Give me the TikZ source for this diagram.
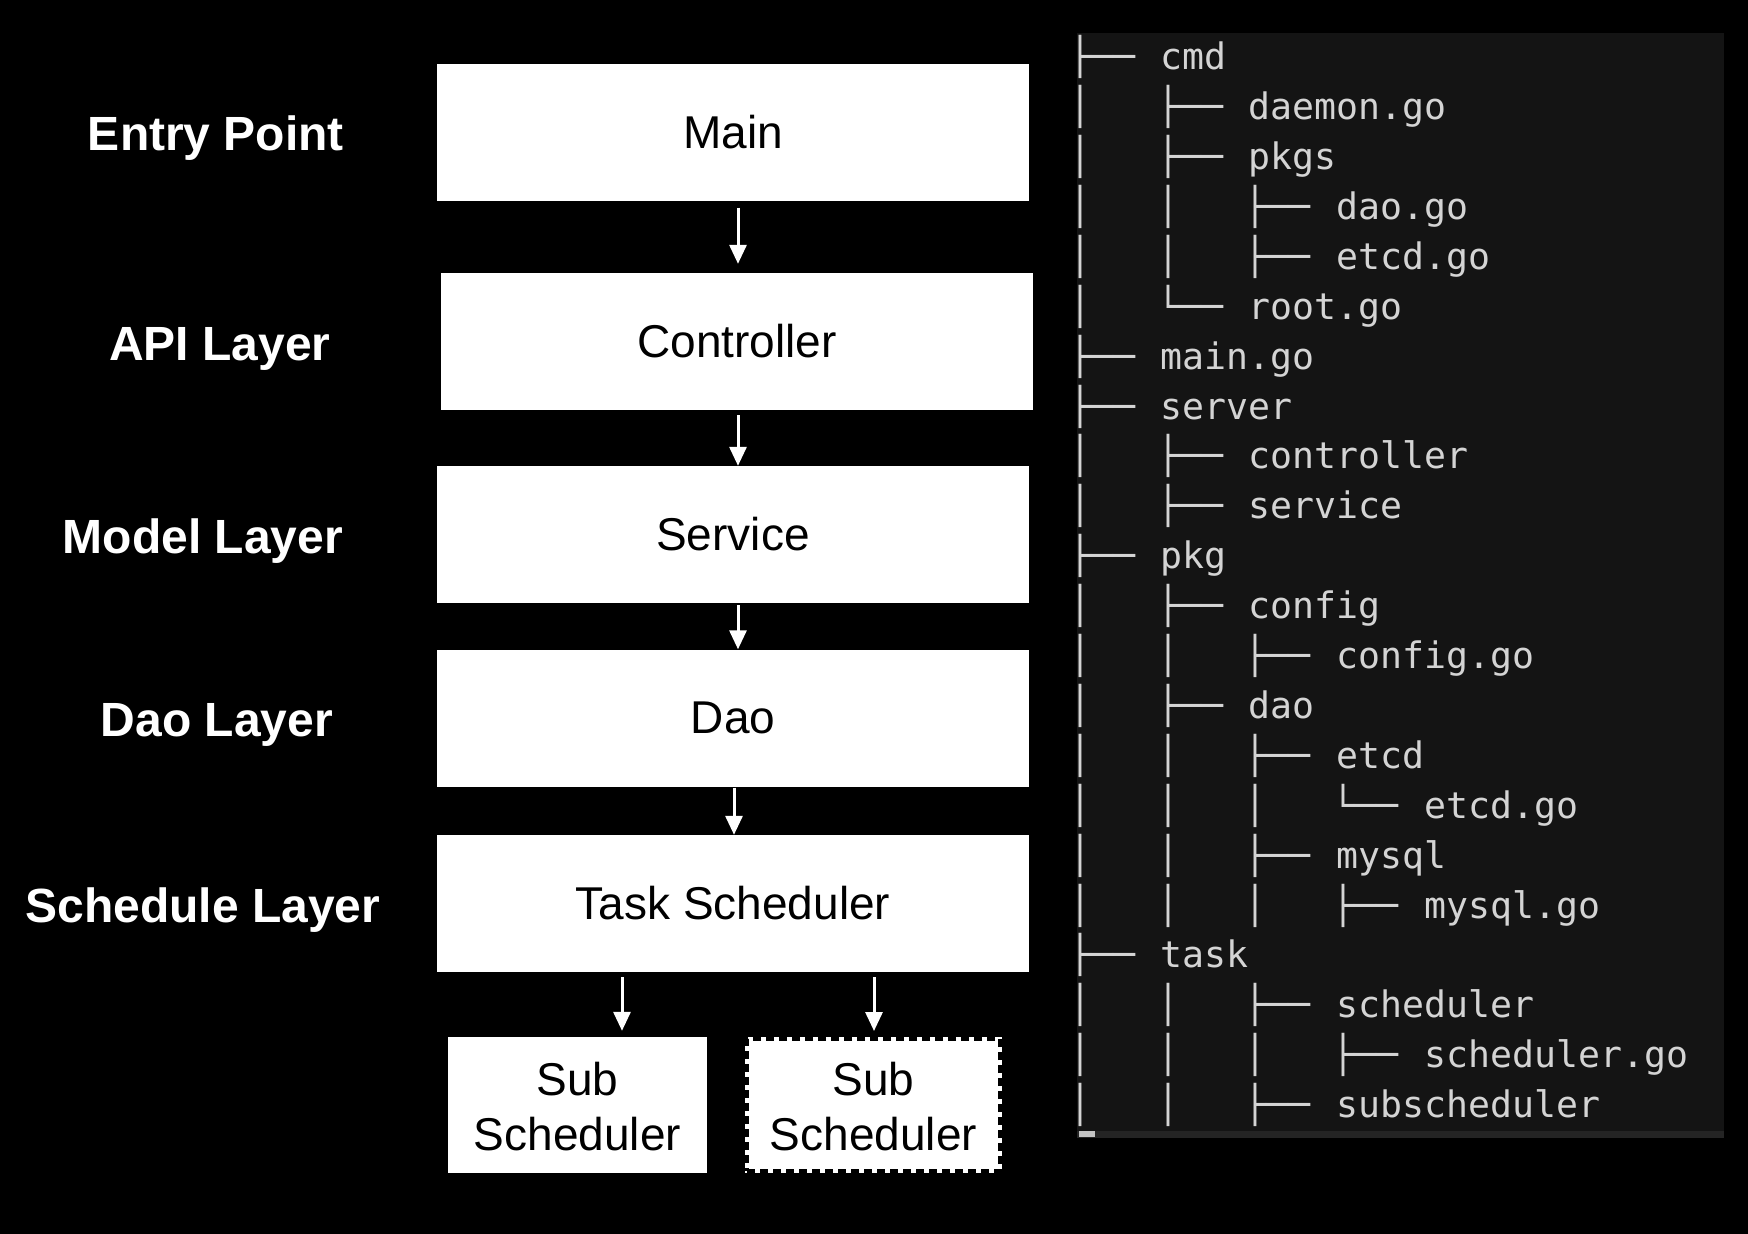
\documentclass[tikz,border=0pt]{standalone}
\usepackage{fontspec}
\setmainfont{Liberation Sans}
\newfontfamily\treefont{DejaVu Sans Mono}
\usetikzlibrary{arrows.meta}
\definecolor{panelbg}{RGB}{20,20,20}
\definecolor{treegray}{RGB}{212,212,212}
\definecolor{scrollbg}{RGB}{36,36,36}
\definecolor{thumbgray}{RGB}{195,195,195}
\newcommand{\gapsp}{\hspace{25.5pt}}
\begin{document}
\begin{tikzpicture}[x=1pt,y=-1pt,
  layerbox/.style={fill=white, inner sep=0pt, text=black,
    font=\fontsize{46}{55}\selectfont, minimum width=592pt, minimum height=137pt},
  subbox/.style={fill=white, inner sep=0pt, minimum width=257pt, minimum height=136pt},
  subtext/.style={inner sep=0pt, text=black, align=center,
    font=\fontsize{46}{55}\selectfont},
  layerlabel/.style={text=white, anchor=base, inner sep=0pt,
    font=\bfseries\fontsize{48}{56}\selectfont},
  arr/.style={draw=white, line width=3pt, -{Triangle[width=17pt,length=19pt]}},
  treeline/.style={anchor=base west, inner sep=0pt, text=treegray,
    font=\treefont\fontsize{36.5}{50}\selectfont}
]
\useasboundingbox (0,0) rectangle (1748,1234);
\fill[black] (0,0) rectangle (1748,1234);

% layer labels
\node[layerlabel] (l1) at (216,150) {Entry Point};
\node[layerlabel] (l2) at (220,360) {API Layer};
\node[layerlabel] (l3) at (203,553) {Model Layer};
\node[layerlabel] (l4) at (217,736) {Dao Layer};
\node[layerlabel] (l5) at (203,922) {Schedule Layer};

% boxes
\node[layerbox] (main) at (733,132) {Main};
\node[layerbox] (ctrl) at (737,341.5) {Controller};
\node[layerbox] (serv) at (733,534.5) {Service};
\node[layerbox] (dao) at (733,718) {Dao};
\node[layerbox] (task) at (733,903.5) {Task Scheduler};
\node[subbox, minimum width=259pt] (sub1) at (577.5,1105) {};
\node[subbox, minimum width=253pt, minimum height=132pt, draw=white, line width=4pt,
      postaction={draw=black, line width=4pt, dash pattern=on 8pt off 5pt}]
      (sub2) at (873.5,1105) {};
\node[subtext, yshift=-2pt] (sub1t) at (sub1.center) {Sub\\Scheduler};
\node[subtext, yshift=-2pt] (sub2t) at (sub2.center) {Sub\\Scheduler};

% arrows
\coordinate (ax) at (738,0);
\coordinate (bx) at (734,0);
\coordinate (s1x) at (622,0);
\coordinate (s2x) at (874,0);
\draw[arr, shorten <=7pt, shorten >=9pt] (main.south -| ax) -- (ctrl.north -| ax);
\draw[arr, shorten <=5pt] (ctrl.south -| ax) -- (serv.north -| ax);
\draw[arr, shorten <=2pt] (serv.south -| ax) -- (dao.north -| ax);
\draw[arr, shorten <=1pt] (dao.south -| bx) -- (task.north -| bx);
\draw[arr, shorten <=5pt, shorten >=6pt] (task.south -| s1x) -- (sub1.north -| s1x);
\draw[arr, shorten <=5pt, shorten >=6pt] (task.south -| s2x) -- (sub2.north -| s2x);

% tree panel
\fill[panelbg] (1077,33) rectangle (1724,1138);
\fill[scrollbg] (1077,1131) rectangle (1724,1138);
\fill[thumbgray] (1079,1131) rectangle (1095,1137);
\foreach \t [count=\i from 0] in {
  ├──\gapsp cmd,
  │~~~├──\gapsp daemon.go,
  │~~~├──\gapsp pkgs,
  │~~~│~~~├──\gapsp dao.go,
  │~~~│~~~├──\gapsp etcd.go,
  │~~~└──\gapsp root.go,
  ├──\gapsp main.go,
  ├──\gapsp server,
  │~~~├──\gapsp controller,
  │~~~├──\gapsp service,
  ├──\gapsp pkg,
  │~~~├──\gapsp config,
  │~~~│~~~├──\gapsp config.go,
  │~~~├──\gapsp dao,
  │~~~│~~~├──\gapsp etcd,
  │~~~│~~~│~~~└──\gapsp etcd.go,
  │~~~│~~~├──\gapsp mysql,
  │~~~│~~~│~~~├──\gapsp mysql.go,
  ├──\gapsp task,
  │~~~│~~~├──\gapsp scheduler,
  │~~~│~~~│~~~├──\gapsp scheduler.go,
  │~~~│~~~├──\gapsp subscheduler}
  \node[treeline] (t\i) at (1069,{69.7+49.9*\i}) {\t};
\end{tikzpicture}
\end{document}
